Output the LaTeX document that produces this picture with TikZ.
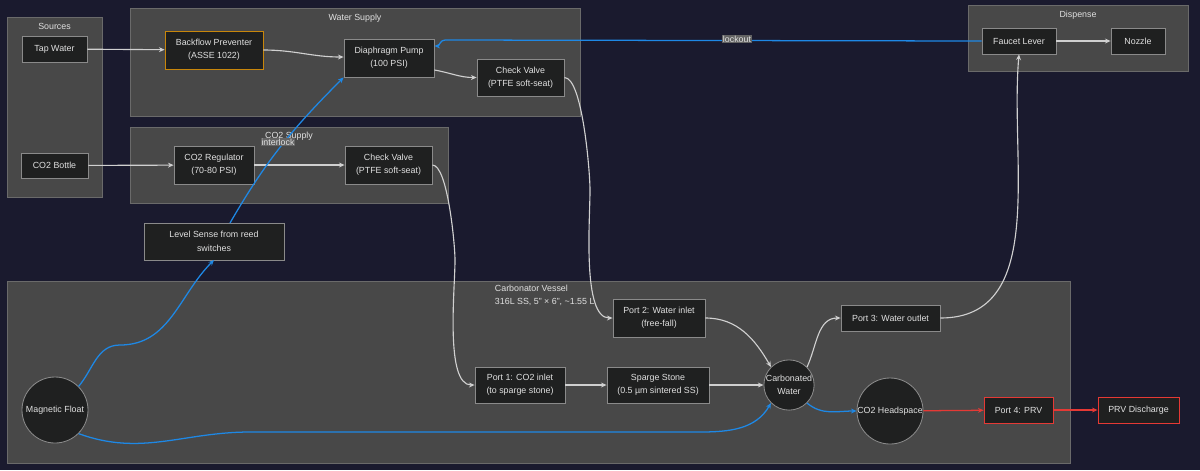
\documentclass[tikz,border=0pt]{standalone}
\usepackage{fontspec}
\setmainfont{Liberation Sans}
\usetikzlibrary{arrows.meta}
\definecolor{bg}{HTML}{1A1A2E}
\definecolor{cl}{HTML}{484848}
\definecolor{clb}{HTML}{6A6A6A}
\definecolor{nf}{HTML}{1F2020}
\definecolor{nb}{HTML}{8A8A8A}
\definecolor{tx}{HTML}{E0E0E0}
\definecolor{ed}{HTML}{D0D0D0}
\definecolor{bl}{HTML}{1E88E5}
\definecolor{rd}{HTML}{E53935}
\definecolor{og}{HTML}{C8860B}
\tikzset{
 x=0.025cm,y=-0.025cm,
 every node/.style={font=\fontsize{6.3}{9.5}\selectfont,text=tx},
 cluster/.style={draw=clb,fill=cl,line width=0.5pt},
 ctitle/.style={anchor=north},
 box/.style={draw=nb,fill=nf,line width=0.6pt,align=center,inner sep=0pt},
 circ/.style={circle,draw=nb,fill=nf,line width=0.6pt,align=center,inner sep=0pt},
 e/.style={draw=ed,line width=0.8pt,-{Stealth[length=4pt,width=3.5pt]}},
 eb/.style={draw=bl,line width=0.9pt,-{Stealth[length=4pt,width=3.5pt]}},
 er/.style={draw=rd,line width=0.9pt,-{Stealth[length=4pt,width=3.5pt]}},
 lab/.style={fill=cl!85!white,inner sep=0.5pt,text=tx}
}
\newcommand{\bx}[6]{\node[box,minimum width=#4*0.025cm-0.6pt,minimum height=#5*0.025cm-0.6pt,#6] (#1) at (#2,#3) {};}
\begin{document}
\begin{tikzpicture}
\fill[bg] (0,0) rectangle (1200,470);
\useasboundingbox (0,0) rectangle (1200,470);
% clusters
\draw[cluster] (7,17) rectangle (102,197); \node[ctitle] (tS) at (54.5,18) {Sources};
\draw[cluster] (130,8) rectangle (580,116); \node[ctitle] (tW) at (355,9) {Water Supply};
\draw[cluster] (130,127) rectangle (448,203); \node[ctitle] (tC) at (289,127) {CO2 Supply};
\draw[cluster] (968,5) rectangle (1188,71); \node[ctitle] (tD) at (1078,6) {Dispense};
\draw[cluster] (7,281) rectangle (1070,463);
\node[anchor=north west,align=left] (tV) at (490,280) {Carbonator Vessel\\316L SS, 5" × 6", \textasciitilde 1.55 L};
% nodes
\node[box,minimum width=65*0.025cm,minimum height=26*0.025cm] (tap) at (54.5,49) {Tap Water};
\node[box,minimum width=67*0.025cm,minimum height=25*0.025cm] (bot) at (54.5,165.5) {CO2 Bottle};
\node[box,draw=og,minimum width=98*0.025cm,minimum height=38*0.025cm] (bfp) at (214,50) {Backflow Preventer\\(ASSE 1022)};
\node[box,minimum width=90*0.025cm,minimum height=38*0.025cm] (pump) at (389,58) {Diaphragm Pump\\(100 PSI)};
\node[box,minimum width=87*0.025cm,minimum height=37*0.025cm] (cv1) at (520.5,77.5) {Check Valve\\(PTFE soft-seat)};
\node[box,minimum width=80*0.025cm,minimum height=38*0.025cm] (reg) at (214,165) {CO2 Regulator\\(70-80 PSI)};
\node[box,minimum width=87*0.025cm,minimum height=38*0.025cm] (cv2) at (388.5,165) {Check Valve\\(PTFE soft-seat)};
\node[box,minimum width=140*0.025cm,minimum height=37*0.025cm] (lvl) at (214,241.5) {Level Sense from reed\\switches};
\node[box,minimum width=74*0.025cm,minimum height=26*0.025cm] (fau) at (1019,41) {Faucet Lever};
\node[box,minimum width=54*0.025cm,minimum height=26*0.025cm] (noz) at (1138,41) {Nozzle};
\node[box,minimum width=92*0.025cm,minimum height=38*0.025cm] (p2) at (659,318) {Port 2: Water inlet\\(free-fall)};
\node[box,minimum width=99*0.025cm,minimum height=26*0.025cm] (p3) at (890.5,318) {Port 3: Water outlet};
\node[box,minimum width=90*0.025cm,minimum height=36*0.025cm] (p1) at (520,385) {Port 1: CO2 inlet\\(to sparge stone)};
\node[box,minimum width=102*0.025cm,minimum height=36*0.025cm] (sp) at (658,385) {Sparge Stone\\(0.5 µm sintered SS)};
\node[circ,minimum size=50*0.025cm] (cw) at (789,385) {Carbonated\\Water};
\node[circ,minimum size=66*0.025cm] (hs) at (890,411) {CO2 Headspace};
\node[box,draw=rd,minimum width=69*0.025cm,minimum height=26*0.025cm] (p4) at (1018.5,410) {Port 4: PRV};
\node[box,draw=rd,minimum width=81*0.025cm,minimum height=26*0.025cm] (prv) at (1138.5,410) {PRV Discharge};
\node[circ,minimum size=66*0.025cm] (mf) at (55,410) {Magnetic Float};
% edges
\draw[e] (tap) -- (bfp);
\draw[e] (bfp.east) to[out=0,in=180] (pump.west|-0,57);
\draw[e] (pump.east|-0,70) to[out=-10,in=180] (cv1.west);
\draw[e] (bot) -- (reg);
\draw[e] (reg) -- (cv2);
\draw[e] (cv1.east) to[out=0,in=90,looseness=0.4] (590,190) to[out=-90,in=180,looseness=0.6] (p2.west);
\draw[e] (cv2.east) to[out=0,in=90,looseness=0.4] (455,260) to[out=-90,in=180,looseness=0.6] (p1.west);
\draw[e] (p1) -- (sp);
\draw[e] (sp) -- (cw);
\draw[e] (p2.east) to[out=0,in=120] (cw.north west);
\draw[e] (cw.north east) to[out=65,in=180] (p3.west);
\draw[e] (p3.east) to[out=0,in=-95] (fau.south);
\draw[e] (fau) -- (noz);
\draw[eb] (fau.west) -- (445,40) to[out=180,in=0] (pump.east|-0,46) node[pos=0,coordinate] (lk) {};
\node[lab] (lockout) at (737,39) {lockout};
\draw[eb] (mf.north east) to[out=50,in=180] (120,345) to[out=0,in=225] (lvl.south|-0,260) ;
\draw[eb] (230,223) to[out=60,in=225] (pump.south west);
\node[lab] (il) at (278,142) {interlock};
\draw[eb] (mf.south east) to[out=-20,in=180] (250,432) -- (700,432) to[out=0,in=240] (cw.south west);
\draw[eb] (cw.south east) to[out=-40,in=180] (hs.west);
\draw[er] (hs) -- (p4);
\draw[er] (p4) -- (prv);
\end{tikzpicture}
\end{document}
